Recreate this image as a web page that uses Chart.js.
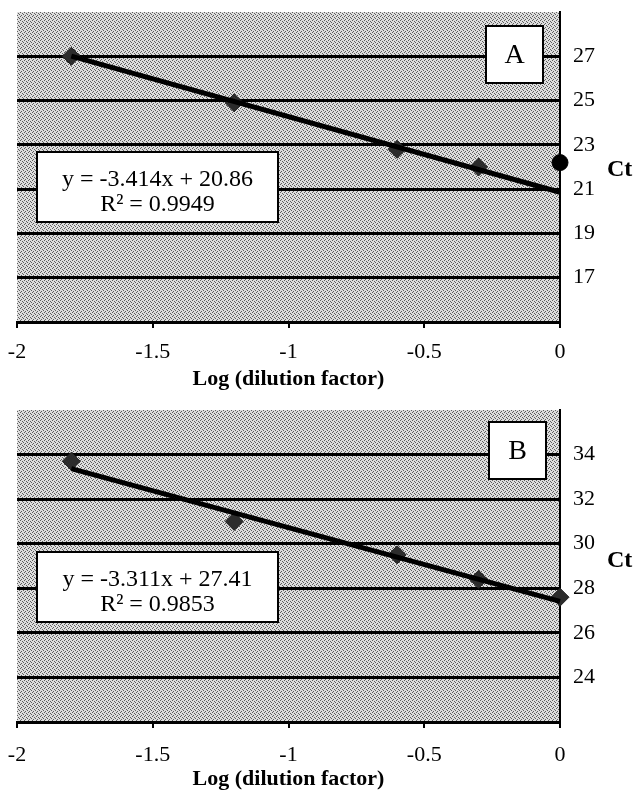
<!DOCTYPE html>
<html>
<head>
<meta charset="utf-8">
<script src="https://cdn.jsdelivr.net/npm/chart.js@4.4.1/dist/chart.umd.min.js"></script>
<style>
  html, body { margin: 0; padding: 0; background: #fff; overflow: hidden; }
  .panel { width: 636px; height: 400px; }
</style>
</head>
<body>
<div class="panel"><canvas id="chartA" width="636" height="400"></canvas></div>
<div class="panel"><canvas id="chartB" width="636" height="400"></canvas></div>
<script>
// x axis: log of the dilution factor
const xTicks = [-2, -1.5, -1, -0.5, 0];
const trendX = [-1.8, 0];

// panel A
const xA = [-1.8, -1.2, -0.6, -0.3];
const ctA = [27.0, 24.9, 22.8, 22.0];
const xA0 = [0];
const ctA0 = [22.2];
const fitA = [-3.414, 20.86];   // slope, intercept
const r2A = 0.9949;
const yTicksA = [17, 19, 21, 23, 25, 27];
const yRangeA = [15, 29];

// panel B
const xB = [-1.8, -1.2, -0.6, -0.3, 0];
const ctB = [33.7, 31.0, 29.5, 28.4, 27.6];
const fitB = [-3.311, 27.41];
const r2B = 0.9853;
const yTicksB = [24, 26, 28, 30, 32, 34];
const yRangeB = [22, 36];

Chart.defaults.font.family = '"Liberation Serif", "Times New Roman", serif';
Chart.defaults.color = '#000';

/* grey dotted fill like the scanned plot area */
function stipple() {
    const c = document.createElement('canvas');
    c.width = 4; c.height = 4;
    const g = c.getContext('2d');
    g.fillStyle = '#dedede';
    g.fillRect(0, 0, 4, 4);
    g.fillStyle = '#5e5e5e';
    [[0, 0], [2, 1], [3, 2], [1, 3]].forEach(d => g.fillRect(d[0], d[1], 1, 1));
    return g.createPattern(c, 'repeat');
}

function toPoints(xs, ys) {
    return xs.map((x, i) => ({ x: x, y: ys[i] }));
}

function makeChart(id, p) {
    const ctx = document.getElementById(id).getContext('2d');
    const pattern = stipple();

    const datasets = [{
        label: 'trend',
        data: trendX.map(x => ({ x: x, y: p.fit[0] * x + p.fit[1] })),
        showLine: true,
        borderColor: '#000',
        borderWidth: 5,
        pointRadius: 0,
        clip: false
    }, {
        label: 'Ct',
        data: toPoints(p.xs, p.ys),
        pointStyle: 'rectRot',
        pointRadius: 9,
        backgroundColor: '#2c2c2c',
        borderColor: '#222',
        borderWidth: 1,
        clip: false
    }];
    if (p.extra) {
        datasets.push({
            label: 'undiluted',
            data: toPoints(p.extra[0], p.extra[1]),
            pointStyle: 'circle',
            pointRadius: 8,
            backgroundColor: '#000',
            borderColor: '#000',
            clip: false
        });
    }

    const decor = {
        id: 'decor',
        beforeDraw(chart) {
            const a = chart.chartArea;
            const c = chart.ctx;
            c.save();
            c.fillStyle = pattern;
            c.fillRect(a.left, a.top, a.right - a.left, a.bottom - a.top);
            c.restore();
        },
        afterDraw(chart) {
            const a = chart.chartArea;
            const c = chart.ctx;
            c.save();
            c.lineWidth = 2;
            c.strokeStyle = '#000';
            c.fillStyle = '#fff';

            // equation box
            const bx = a.left + 20, by = a.top + p.eqTop, bw = 241, bh = 70;
            c.fillRect(bx, by, bw, bh);
            c.strokeRect(bx, by, bw, bh);
            c.fillStyle = '#000';
            c.font = '24px "Liberation Serif"';
            c.textAlign = 'center';
            c.textBaseline = 'middle';
            const eq = 'y = ' + p.fit[0].toFixed(3) + 'x + ' + p.fit[1].toFixed(2);
            c.fillText(eq, bx + bw / 2, by + 28);
            c.fillText('R\u00b2 = ' + p.r2.toFixed(4), bx + bw / 2, by + 53);

            // panel letter
            const lx = a.right - p.letterRight, ly = a.top + p.letterTop;
            c.fillStyle = '#fff';
            c.fillRect(lx, ly, 57, 57);
            c.strokeRect(lx, ly, 57, 57);
            c.fillStyle = '#000';
            c.font = '28px "Liberation Serif"';
            c.fillText(p.letter, lx + 28.5, ly + 30);

            // Ct axis label, horizontal
            c.font = 'bold 24px "Liberation Serif"';
            c.textAlign = 'left';
            c.fillText('Ct', a.right + 47, (a.top + a.bottom) / 2 + p.ctShift);
            c.restore();
        }
    };

    return new Chart(ctx, {
        type: 'scatter',
        data: { datasets: datasets },
        options: {
            responsive: false,
            animation: false,
            layout: { padding: { left: 17, top: p.top, right: 0, bottom: 0 } },
            plugins: { legend: { display: false }, tooltip: { enabled: false } },
            scales: {
                x: {
                    type: 'linear',
                    min: -2,
                    max: 0,
                    afterBuildTicks: s => { s.ticks = xTicks.map(v => ({ value: v })); },
                    afterFit: s => { s.height = 78; s.paddingLeft = 0; s.paddingRight = 0; },
                    ticks: { font: { size: 22 }, padding: p.xPad, maxRotation: 0, callback: v => String(v) },
                    grid: { drawOnChartArea: false, drawTicks: true, tickLength: 6, color: '#000', lineWidth: 2 },
                    border: { color: '#000', width: 3 },
                    title: {
                        display: true,
                        text: 'Log (dilution factor)',
                        font: { size: 22, weight: 'bold' },
                        padding: { top: 0, bottom: 7 }
                    }
                },
                y: {
                    type: 'linear',
                    position: 'right',
                    min: p.range[0],
                    max: p.range[1],
                    afterBuildTicks: s => { s.ticks = p.yTicks.map(v => ({ value: v })); },
                    afterFit: s => { s.width = 76; s.paddingTop = 0; s.paddingBottom = 0; },
                    ticks: { font: { size: 22 }, padding: 13 },
                    grid: { color: '#000', lineWidth: 3, drawTicks: false },
                    border: { color: '#000', width: 2 }
                }
            }
        },
        plugins: [decor]
    });
}

makeChart('chartA', {
    xs: xA, ys: ctA, extra: [xA0, ctA0], fit: fitA, r2: r2A,
    yTicks: yTicksA, range: yRangeA, top: 12, xPad: 11,
    letter: 'A', letterRight: 74, letterTop: 14, eqTop: 140, ctShift: 3
});
makeChart('chartB', {
    xs: xB, ys: ctB, fit: fitB, r2: r2B,
    yTicks: yTicksB, range: yRangeB, top: 5, xPad: 14,
    letter: 'B', letterRight: 71, letterTop: 12, eqTop: 142, ctShift: -5
});
</script>
</body>
</html>
